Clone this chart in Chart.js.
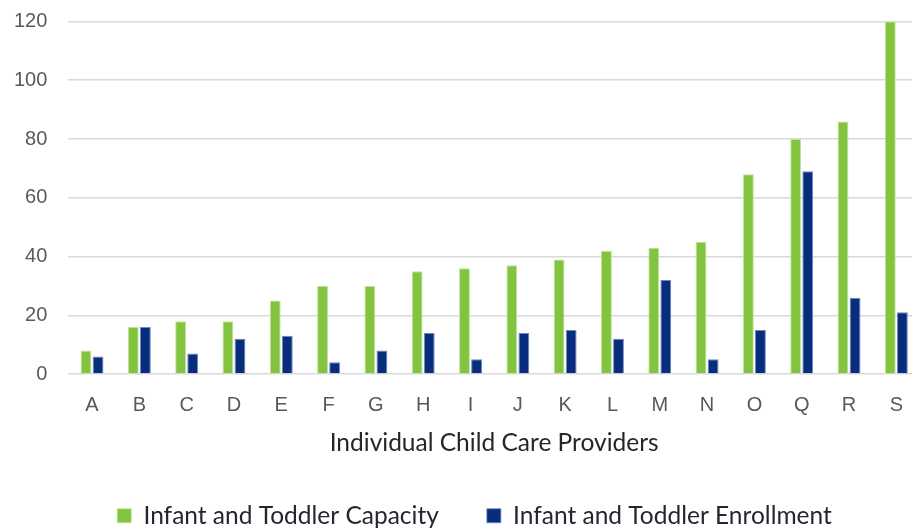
<!DOCTYPE html>
<html>
<head>
<meta charset="utf-8">
<script src="https://cdn.jsdelivr.net/npm/chart.js@4/dist/chart.umd.min.js"></script>
<style>
  html, body { margin: 0; padding: 0; background: #fff; overflow: hidden; }
  #wrap { width: 920px; height: 529px; }
</style>
</head>
<body>
<div id="wrap"><canvas id="providers-chart"></canvas></div>
<script>
// Providers along the x axis (there is no P)
const providers = ['A', 'B', 'C', 'D', 'E', 'F', 'G', 'H', 'I', 'J', 'K', 'L', 'M', 'N', 'O', 'Q', 'R', 'S'];

// Licensed infant/toddler slots per provider
const capacity = [8, 16, 18, 18, 25, 30, 30, 35, 36, 37, 39, 42, 43, 45, 68, 80, 86, 120];

// Infants/toddlers actually enrolled
const enrollment = [6, 16, 7, 12, 13, 4, 8, 14, 5, 14, 15, 12, 32, 5, 15, 69, 26, 21];

const yTicks = [0, 20, 40, 60, 80, 100, 120];

const green = 'rgb(130, 196, 64)';
const navy = 'rgb(8, 45, 124)';

// nudge the legend row to the right of the canvas centre
const legendShift = {
    id: 'legendShift',
    afterLayout(chart) {
        chart.legend.left += 18;
        chart.legend.right += 18;
    }
};

new Chart(document.getElementById('providers-chart').getContext('2d'), {
    type: 'bar',
    data: {
        labels: providers,
        datasets: [
            {
                label: 'Infant and Toddler Capacity',
                data: capacity,
                backgroundColor: green,
                borderColor: 'rgb(190, 228, 150)',
                borderWidth: { top: 1, left: 1, right: 1, bottom: 0 },
                barPercentage: 0.9,
                categoryPercentage: 0.51
            },
            {
                label: 'Infant and Toddler Enrollment',
                data: enrollment,
                backgroundColor: navy,
                borderColor: 'rgb(110, 135, 190)',
                borderWidth: { top: 1, left: 1, right: 1, bottom: 0 },
                barPercentage: 0.9,
                categoryPercentage: 0.51
            }
        ]
    },
    plugins: [legendShift],
    options: {
        responsive: true,
        maintainAspectRatio: false,
        animation: false,
        layout: { padding: { top: 0, left: -7, right: 0, bottom: -9 } },
        scales: {
            x: {
                grid: { display: false },
                border: { display: false },
                ticks: {
                    color: '#595959',
                    font: { family: 'Liberation Sans', size: 20 },
                    padding: 11
                },
                title: {
                    display: true,
                    text: 'Individual Child Care Providers',
                    color: '#262626',
                    font: { family: 'Lato', size: 24.5, lineHeight: 1 },
                    padding: { top: 3, bottom: 0 }
                }
            },
            y: {
                min: 0,
                max: 120,
                afterBuildTicks: axis => { axis.ticks = yTicks.map(v => ({ value: v })); },
                grid: { color: '#d9d9d9', lineWidth: 1.5, drawTicks: false },
                border: { display: false },
                ticks: {
                    color: '#595959',
                    font: { family: 'Liberation Sans', size: 20, lineHeight: 0.05 },
                    padding: 21
                }
            }
        },
        plugins: {
            legend: {
                position: 'bottom',
                labels: {
                    color: '#262632',
                    font: { family: 'Lato', size: 24.5 },
                    boxWidth: 14,
                    boxHeight: 14,
                    padding: 48
                }
            },
            tooltip: { enabled: false }
        }
    }
});
</script>
</body>
</html>
